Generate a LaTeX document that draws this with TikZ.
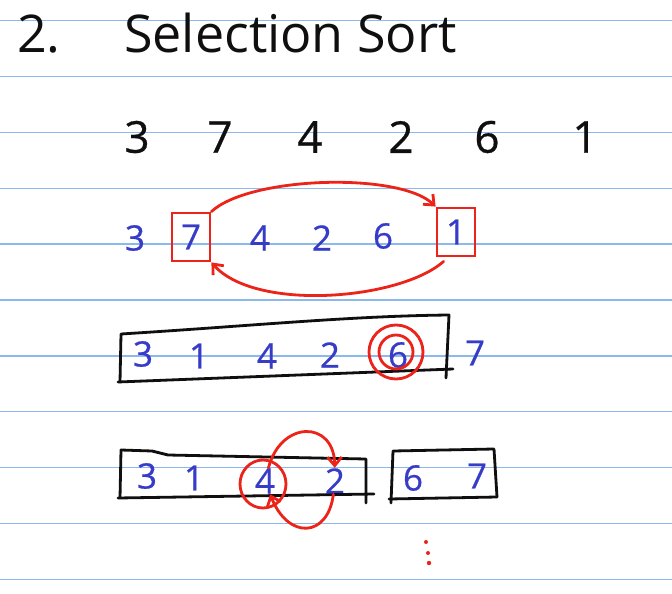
\documentclass[tikz,border=0pt]{standalone}
\usepackage{fontspec}
\setmainfont{Open Sans}
\newfontfamily\handfont[FakeBold=0.6]{Open Sans}
\usetikzlibrary{arrows.meta}

\definecolor{ruleblue}{RGB}{140,185,235}
\definecolor{ink}{RGB}{15,15,15}
\definecolor{pen}{RGB}{55,60,200}
\definecolor{redpen}{RGB}{235,35,25}

\begin{document}
\begin{tikzpicture}[
    x=1pt, y=-1pt,
    every node/.style={inner sep=0pt},
    title/.style={font=\fontsize{52}{52}\selectfont, text=ink, anchor=base west},
    num/.style={font=\handfont\fontsize{44}{44}\selectfont, text=ink, minimum width=24pt, minimum height=34pt},
    val/.style={font=\handfont\fontsize{35}{35}\selectfont, text=pen, minimum width=20pt, minimum height=26pt},
    pick/.style={val, draw=redpen, line width=2.8pt, minimum width=38pt, minimum height=48pt},
    frame/.style={draw=ink, line width=2.8pt, line join=round, line cap=round},
    ring/.style={draw=redpen, line width=2.8pt},
    swap/.style={draw=redpen, line width=2.8pt, line cap=round,
                 -{Straight Barb[length=3mm, width=5mm]}},
]
\fill[white] (0,0) rectangle (672,594);
\useasboundingbox (0,0) rectangle (672,594);
\foreach \k in {0,...,10}
    \draw[ruleblue, line width=1.3pt] (0,{20.5+55.9*\k}) -- (672,{20.5+55.9*\k});

\node[title] (no)    at (17,53)  {2.};
\node[title] (head)  at (124,53) {Selection Sort};

\node[num] (a1) at (137,137) {3};
\node[num] (a2) at (220,137) {7};
\node[num] (a3) at (310,137) {4};
\node[num] (a4) at (401,137) {2};
\node[num] (a5) at (487,137) {6};
\node[num] (a6) at (585,137) {1};

\node[val]  (b1) at (135,238) {3};
\node[pick] (b2) at (191,237) {7};
\node[val]  (b3) at (260,238) {4};
\node[val]  (b4) at (322,238) {2};
\node[val]  (b5) at (383,236) {6};
\node[pick] (b6) at (456,232) {1};

\draw[swap] (b2.north east) .. controls (250,176) and (400,172) .. (b6.north west);
\draw[swap] ([shift={(8,4)}]b6.south west) .. controls (400,300) and (255,312) .. (b2.south east);

\node[val] (c1) at (143,354) {3};
\node[val] (c2) at (199,356) {1};
\node[val] (c3) at (267,356) {4};
\node[val] (c4) at (330,355) {2};
\node[val] (c5) at (398,355) {6};
\node[val] (c6) at (475,353) {7};

\draw[frame] (120,382) -- (121,334) .. controls (250,326) and (350,316) .. (449,315) -- (446,378);
\draw[frame] (118,382) -- (453,369);
\draw[ring] ([shift={(-2,-3)}]c5) circle (17) circle (27);

\node[val] (d1) at (147,476) {3};
\node[val] (d2) at (194,478) {1};
\node[val] (d3) at (265,481) {4};
\node[val] (d4) at (335,481) {2};
\node[val] (d5) at (413,478) {6};
\node[val] (d6) at (477,476) {7};

\draw[frame] (120,498) -- (121,450) -- (152,451) -- (168,455) -- (366,459) -- (366,503);
\draw[frame] (118,498) -- (374,494);
\draw[frame] (391,503) -- (393,451) -- (494,449) -- (497,497);
\draw[frame] (389,499) -- (497,497);

\draw[ring] ([shift={(-2,3)}]d3) circle[x radius=23, y radius=24];
\draw[swap] ([shift={(12,-29)}]d3) .. controls (281,420) and (334,420) .. ([shift={(5,-26)}]d4);
\draw[swap] ([shift={(-5,26)}]d4) .. controls (328,538) and (288,540) .. ([shift={(5,31)}]d3);

\fill[redpen] (426,542) circle (2) (428,553) circle (2) (429,563) circle (2.2);
\end{tikzpicture}
\end{document}
